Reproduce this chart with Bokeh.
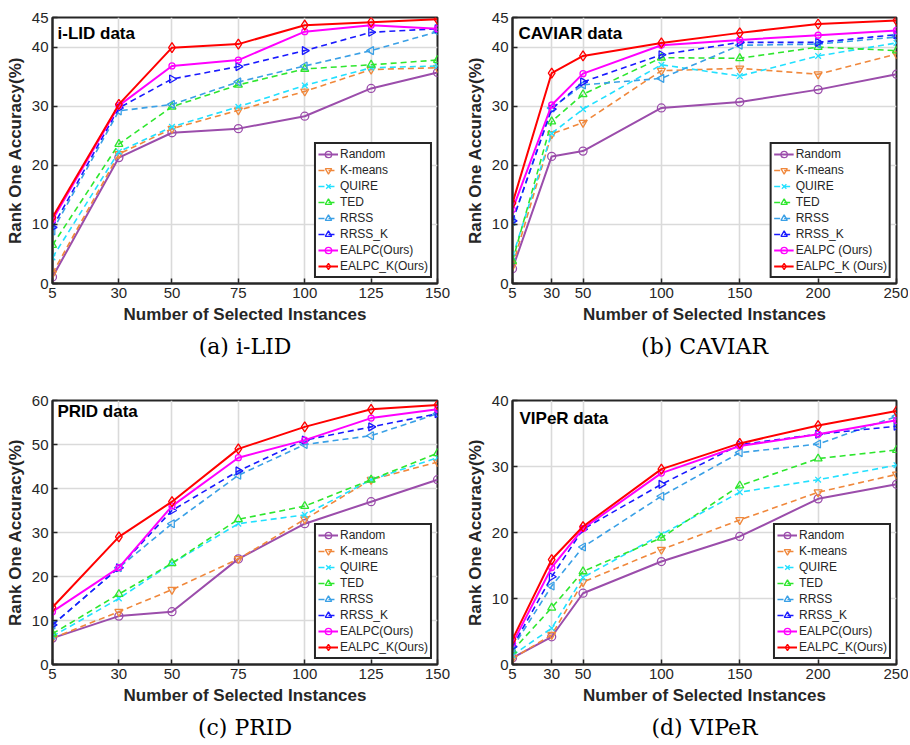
import math
from bokeh.plotting import figure
from bokeh.layouts import column, row
from bokeh.models import Range1d, FixedTicker, Label, Title
from bokeh.embed import file_html
from bokeh.resources import INLINE

# ---------------- data ----------------
labels_std = ["Random", "K-means", "QUIRE", "TED", "RRSS", "RRSS_K", "EALPC(Ours)", "EALPC_K(Ours)"]
labels_caviar = ["Random", "K-means", "QUIRE", "TED", "RRSS", "RRSS_K", "EALPC (Ours)", "EALPC_K (Ours)"]

x_ilid = [5, 30, 50, 75, 100, 125, 150]
ilid_random = [1.1, 21.3, 25.5, 26.2, 28.3, 33.0, 35.7]
ilid_kmeans = [1.7, 21.9, 26.2, 29.3, 32.5, 36.2, 36.5]
ilid_quire = [4.4, 22.3, 26.5, 29.9, 33.5, 36.5, 36.8]
ilid_ted = [6.5, 23.6, 29.9, 33.6, 36.3, 37.0, 37.8]
ilid_rrss = [8.9, 29.2, 30.3, 34.1, 36.8, 39.4, 42.6]
ilid_rrssk = [9.5, 29.7, 34.6, 36.7, 39.4, 42.5, 43.1]
ilid_ealpc = [10.8, 30.1, 36.8, 37.8, 42.6, 43.7, 43.1]
ilid_ealpck = [11.2, 30.3, 39.9, 40.5, 43.7, 44.2, 44.7]

x_caviar = [5, 30, 50, 100, 150, 200, 250]
caviar_random = [2.5, 21.5, 22.4, 29.7, 30.7, 32.8, 35.4]
caviar_kmeans = [3.0, 25.3, 27.2, 36.0, 36.4, 35.4, 38.8]
caviar_quire = [4.5, 25.4, 29.5, 37.0, 35.1, 38.5, 40.7]
caviar_ted = [3.8, 27.4, 32.0, 38.2, 38.1, 40.0, 39.4]
caviar_rrss = [10.5, 29.7, 33.6, 34.7, 40.3, 40.5, 41.7]
caviar_rrssk = [10.6, 29.5, 34.1, 38.7, 40.8, 40.8, 42.1]
caviar_ealpc = [12.5, 30.2, 35.5, 40.3, 41.2, 42.0, 42.8]
caviar_ealpck = [13.6, 35.6, 38.5, 40.7, 42.4, 43.9, 44.5]

x_prid = [5, 30, 50, 75, 100, 125, 150]
prid_random = [6, 11, 12, 24, 32, 37, 42]
prid_kmeans = [6, 12, 17, 24, 33, 42, 46]
prid_quire = [6.4, 15, 23, 32, 34, 42, 47]
prid_ted = [7, 16, 23, 33, 36, 42, 48]
prid_rrss = [9, 22, 32, 43, 50, 52, 57]
prid_rrssk = [9, 22, 35, 44, 51, 54, 57]
prid_ealpc = [12, 22, 36, 47, 51, 56, 58]
prid_ealpck = [13, 29, 37, 49, 54, 58, 59]

x_viper = [5, 30, 50, 100, 150, 200, 250]
viper_random = [1.0, 4.2, 10.8, 15.6, 19.4, 25.1, 27.3]
viper_kmeans = [0.9, 4.5, 12.5, 17.4, 21.9, 26.1, 28.8]
viper_quire = [1.4, 5.5, 13.2, 19.7, 26.1, 28.0, 30.2]
viper_ted = [2.1, 8.6, 14.1, 19.2, 27.1, 31.2, 32.5]
viper_rrss = [2.5, 11.9, 17.8, 25.5, 32.1, 33.4, 37.6]
viper_rrssk = [2.7, 13.3, 20.5, 27.3, 33.3, 34.9, 36.1]
viper_ealpc = [3.2, 14.7, 20.6, 29.0, 33.1, 34.9, 37.0]
viper_ealpck = [3.8, 15.9, 20.9, 29.6, 33.5, 36.2, 38.4]

yticks_45 = [0, 10, 20, 30, 40, 45]
yticks_60 = [0, 10, 20, 30, 40, 50, 60]
yticks_40 = [0, 10, 20, 30, 40]

# ---------------- styles ----------------
colors = ["#9b4dab", "#f0883c", "#22e0ff", "#2ee62e", "#3aa0e6", "#1a1aff", "#ff00ff", "#ff0000"]
dashes = ["solid", "6 4", "6 4", "6 4", "6 4", "6 4", "solid", "solid"]
widths = [2, 1.6, 1.6, 1.6, 1.6, 1.6, 2, 2]
markers = ["circle", "inverted_triangle", "x", "triangle", "triangle", "triangle", "circle", "diamond"]
msizes = [8, 8, 8, 8, 8, 8, 6, 10]
angles = [0, 0, 0, 0, math.pi / 2, -math.pi / 2, 0, 0]

DARK = "#262626"
SANS = "Liberation Sans"


def make_panel(title, caption, xs, series, labels, y_end, yticks, width, height,
               bl, br, bt, bb, title_dx, title_dy, frame_h, cap_offset):
    p = figure(width=width, height=height,
               x_range=Range1d(xs[0], xs[-1]), y_range=Range1d(0, y_end),
               output_backend="svg", toolbar_location=None,
               min_border_left=bl, min_border_right=br,
               min_border_top=bt, min_border_bottom=bb)
    p.background_fill_color = "white"
    p.border_fill_color = "white"
    p.outline_line_color = DARK
    p.outline_line_width = 2
    p.outline_line_alpha = 1

    p.xaxis.ticker = FixedTicker(ticks=xs)
    p.yaxis.ticker = FixedTicker(ticks=yticks)
    p.xgrid.ticker = FixedTicker(ticks=xs)
    p.ygrid.ticker = FixedTicker(ticks=yticks)
    for g in (p.xgrid, p.ygrid):
        g.grid_line_color = "#dadada"
        g.grid_line_width = 1.6

    for ax in (p.xaxis, p.yaxis):
        ax.axis_line_color = DARK
        ax.axis_line_width = 2
        ax.major_tick_in = 5
        ax.major_tick_out = 0
        ax.major_tick_line_color = DARK
        ax.major_tick_line_width = 1.5
        ax.minor_tick_line_color = None
        ax.major_label_text_font = SANS
        ax.major_label_text_font_size = "15px"
        ax.major_label_text_color = DARK
        ax.major_label_standoff = 4
        ax.axis_label_text_font = SANS
        ax.axis_label_text_font_size = "17px"
        ax.axis_label_text_font_style = "bold"
        ax.axis_label_text_color = DARK
        ax.axis_label_standoff = 4
    p.xaxis.axis_label = "Number of Selected Instances"
    p.yaxis.axis_label = "Rank One Accuracy(%)"

    for i, (lab, ys) in enumerate(zip(labels, series)):
        p.line(xs, ys, line_color=colors[i], line_width=widths[i],
               line_dash=dashes[i], legend_label=lab)
        p.scatter(xs, ys, marker=markers[i], size=msizes[i], angle=angles[i],
                  line_color=colors[i], fill_color=None, line_width=1.3,
                  legend_label=lab)

    lg = p.legend[0]
    lg.location = "bottom_right"
    lg.margin = 5
    lg.padding = 2
    lg.spacing = 0
    lg.label_height = 16
    lg.glyph_height = 16
    lg.glyph_width = 20
    lg.label_standoff = 2
    lg.label_text_font = SANS
    lg.label_text_font_size = "12px"
    lg.label_text_color = DARK
    lg.border_line_color = DARK
    lg.border_line_width = 2
    lg.border_line_alpha = 1
    lg.background_fill_color = "white"
    lg.background_fill_alpha = 1

    p.add_layout(Label(x=title_dx, y=frame_h - title_dy, x_units="screen", y_units="screen",
                       text=title, text_font=SANS, text_font_size="17px",
                       text_font_style="bold", text_baseline="middle", text_color="black"))

    cap = Title(text=caption, align="center", text_font="DejaVu Serif",
                text_font_size="22px", text_font_style="normal", text_color="black",
                offset=cap_offset, standoff=10)
    p.add_layout(cap, "below")
    return p


FH = 266
pa = make_panel("i-LID data", "(a) i-LID", x_ilid,
                [ilid_random, ilid_kmeans, ilid_quire, ilid_ted, ilid_rrss, ilid_rrssk, ilid_ealpc, ilid_ealpck],
                labels_std, 45, yticks_45, 455, 363, 52, 18, 17, 80, 5, 16, FH, -14)
pb = make_panel("CAVIAR data", "(b) CAVIAR", x_caviar,
                [caviar_random, caviar_kmeans, caviar_quire, caviar_ted, caviar_rrss, caviar_rrssk, caviar_ealpc, caviar_ealpck],
                labels_caviar, 45, yticks_45, 453, 363, 57, 12, 17, 80, 6, 16, FH, -5)
pc = make_panel("PRID data", "(c) PRID", x_prid,
                [prid_random, prid_kmeans, prid_quire, prid_ted, prid_rrss, prid_rrssk, prid_ealpc, prid_ealpck],
                labels_std, 60, yticks_60, 455, 381, 52, 18, 37, 78, 5, 13, FH, -16)
pd_ = make_panel("VIPeR data", "(d) VIPeR", x_viper,
                 [viper_random, viper_kmeans, viper_quire, viper_ted, viper_rrss, viper_rrssk, viper_ealpc, viper_ealpck],
                 labels_std, 40, yticks_40, 453, 381, 57, 12, 37, 78, 7, 20, FH, -5)

layout = column(row(pa, pb), row(pc, pd_))
open("out.html", "w").write(file_html(layout, INLINE))
